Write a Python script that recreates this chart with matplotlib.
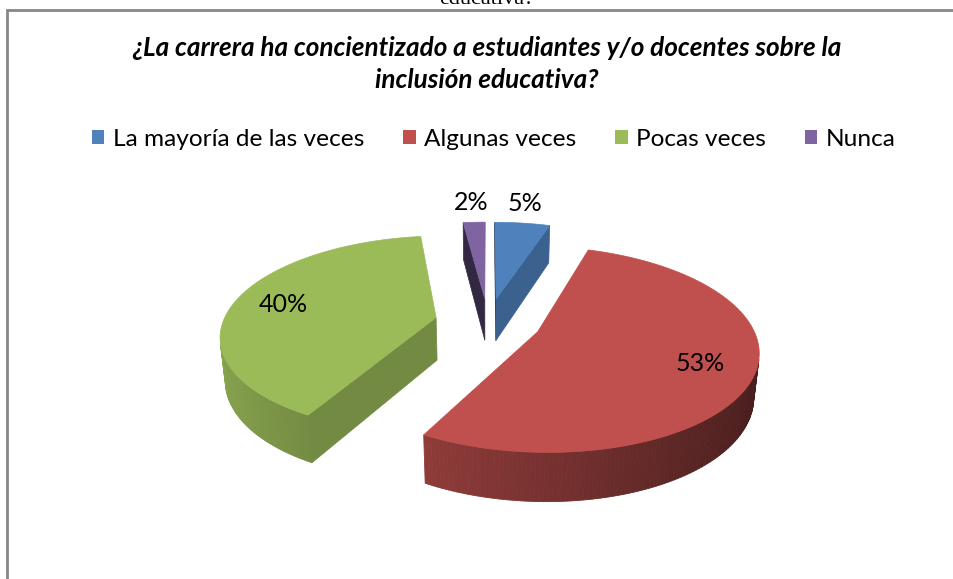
import numpy as np
import matplotlib
matplotlib.use("Agg")
import matplotlib.pyplot as plt
from matplotlib.patches import Polygon, Patch

# ---------------- data ----------------
categories = ["La mayoría de las veces", "Algunas veces", "Pocas veces", "Nunca"]
values = [5, 53, 40, 2]
pct_labels = ["5%", "53%", "40%", "2%"]
title = "¿La carrera ha concientizado a estudiantes y/o docentes sobre la\ninclusión educativa?"
top_cut_text = "educativa?"
colors = ["#4F81BD", "#C0504D", "#9BBB59", "#8064A2"]

# ---------------- figure ----------------
W, H = 954, 579
fig = plt.figure(figsize=(W / 100, H / 100), dpi=100)
ax = fig.add_axes([0, 0, 1, 1])
ax.set_xlim(0, W)
ax.set_ylim(H, 0)
ax.axis("off")

FONT = ["Lato", "DejaVu Sans"]

# 3-D camera model (perspective)
PHI = np.radians(27)
S, C = np.sin(PHI), np.cos(PHI)
DIST = 5.3
FOC = 1129
U0, V0 = 488, 322
THICK = 0.23
EXPL = 0.25
cam = np.array([0.0, -DIST * C, DIST * S])


def proj(X, Y, Z):
    X = np.asarray(X, float)
    Y = np.asarray(Y, float)
    Z = np.asarray(Z, float)
    zc = DIST + Y * C - Z * S
    return U0 + FOC * X / zc, V0 - FOC * (Y * S + Z * C) / zc


def shade(rgb, f):
    return tuple(np.clip(np.array(rgb) * f, 0, 1))


total = float(sum(values))
bounds = np.concatenate([[0], np.cumsum(values)]) / total * 2 * np.pi

slices = []
for i, v in enumerate(values):
    t0, t1 = bounds[i], bounds[i + 1]
    mid = 0.5 * (t0 + t1)
    ox, oy = EXPL * np.sin(mid), EXPL * np.cos(mid)
    slices.append((i, t0, t1, mid, ox, oy))

# draw far slices first
order = sorted(slices, key=lambda s: -s[5])
z = 2
for (i, t0, t1, mid, ox, oy) in order:
    base = matplotlib.colors.to_rgb(colors[i])
    n = max(8, int(np.degrees(t1 - t0)))
    ts = np.linspace(t0, t1, n + 1)
    # outer wall
    for k in range(n):
        ta, tb = ts[k], ts[k + 1]
        tm = 0.5 * (ta + tb)
        P = np.array([ox + np.sin(tm), oy + np.cos(tm), -THICK / 2])
        nrm = np.array([np.sin(tm), np.cos(tm), 0])
        if np.dot(nrm, cam - P) <= 0:
            continue
        Xs = [ox + np.sin(ta), ox + np.sin(tb), ox + np.sin(tb), ox + np.sin(ta)]
        Ys = [oy + np.cos(ta), oy + np.cos(tb), oy + np.cos(tb), oy + np.cos(ta)]
        Zs = [0, 0, -THICK, -THICK]
        u, w = proj(Xs, Ys, Zs)
        f = np.clip(0.62 - 0.26 * np.sin(tm), 0.38, 1)
        col = shade(base, f)
        ax.add_patch(Polygon(np.column_stack([u, w]), closed=True, facecolor=col,
                             edgecolor=col, linewidth=0.6, zorder=z))
    # radial walls
    for t, nang in ((t0, t0 - np.pi / 2), (t1, t1 + np.pi / 2)):
        nrm = np.array([np.sin(nang), np.cos(nang), 0])
        P = np.array([ox + 0.5 * np.sin(t), oy + 0.5 * np.cos(t), -THICK / 2])
        if np.dot(nrm, cam - P) <= 0.02:
            continue
        Xs = [ox, ox + np.sin(t), ox + np.sin(t), ox]
        Ys = [oy, oy + np.cos(t), oy + np.cos(t), oy]
        Zs = [0, 0, -THICK, -THICK]
        u, w = proj(Xs, Ys, Zs)
        col = shade(base, 0.58 + 0.18 * np.sin(nang))
        ax.add_patch(Polygon(np.column_stack([u, w]), closed=True, facecolor=col,
                             edgecolor=col, linewidth=0.5, zorder=z))
    # top face
    Xs = np.concatenate([[ox], ox + np.sin(ts)])
    Ys = np.concatenate([[oy], oy + np.cos(ts)])
    u, w = proj(Xs, Ys, np.zeros_like(Xs))
    ax.add_patch(Polygon(np.column_stack([u, w]), closed=True, facecolor=base,
                         edgecolor=base, linewidth=0.5, zorder=z + 0.5))
    # percentage label
    r = 1.31 if values[i] / total < 0.1 else 0.76
    lu, lv = proj(ox + r * np.sin(mid), oy + r * np.cos(mid), 0)
    ax.text(float(lu) - (4 if r > 1 and mid < np.pi else 0), float(lv), pct_labels[i],
            ha="center", va="center", fontsize=18, family=FONT, color="black", zorder=10)
    z += 1

# title
ax.text(487, 64, title, ha="center", va="center", fontsize=18.8, fontweight="bold",
        fontstyle="italic", family=FONT, linespacing=1.35, color="black")

# cut-off document text at top
ax.text(487, 4, top_cut_text, ha="center", va="baseline", fontsize=16,
        family=["Liberation Serif"], color="black")

# frame (chart area border, partially outside the screenshot)
ax.plot([7, 7, W + 5], [H + 5, 10, 10], color="#868686", linewidth=2,
        solid_joinstyle="miter", zorder=1)

# legend
handles = [Patch(facecolor=c, edgecolor="none") for c in colors]
fig.legend(handles, categories, loc="center", bbox_to_anchor=(494 / W, 1 - 139 / H),
           ncol=4, frameon=False, handlelength=0.5, handleheight=0.5,
           handletextpad=0.35, columnspacing=1.6,
           prop={"family": FONT, "size": 17.6})

fig.savefig("out.png", dpi=100)
